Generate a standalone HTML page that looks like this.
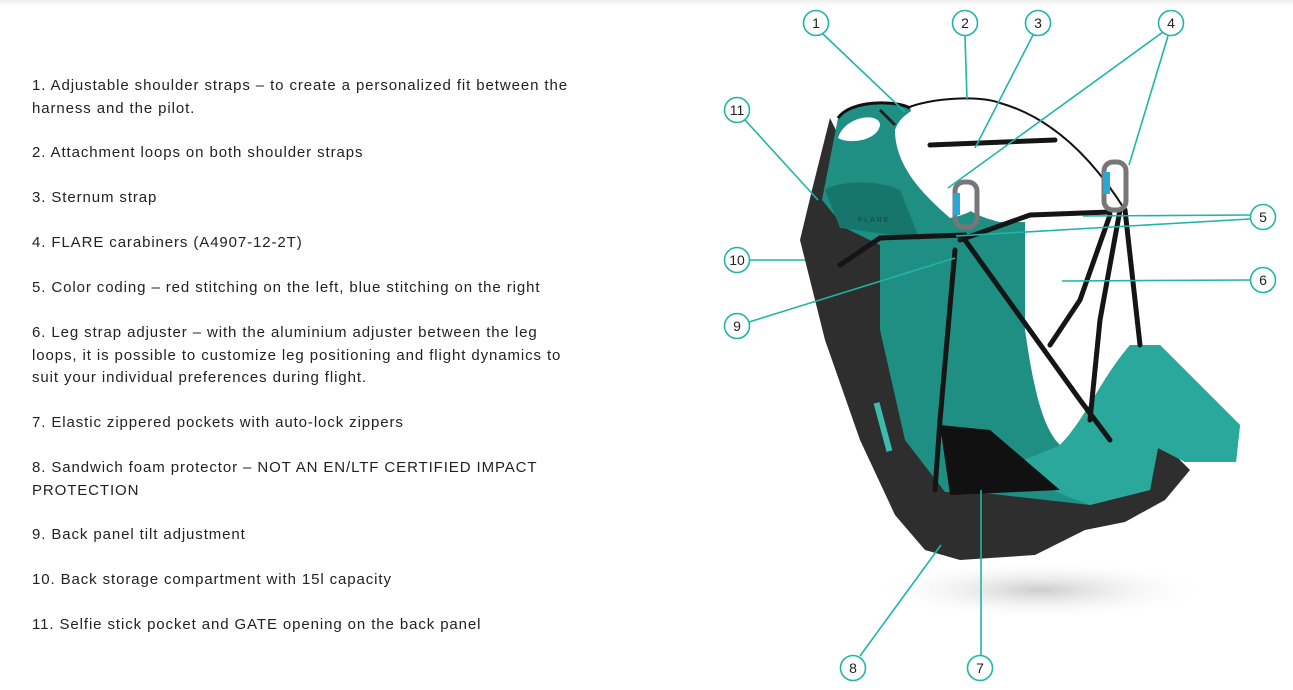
<!DOCTYPE html>
<html><head><meta charset="utf-8"><style>
html,body{margin:0;padding:0;background:#fff;}
body{width:1293px;height:690px;position:relative;overflow:hidden;font-family:"Liberation Sans",sans-serif;}
.t{position:absolute;left:32px;font-size:15px;color:#222;line-height:22.5px;width:545px;letter-spacing:0.9px;}
.top{position:absolute;left:0;top:0;width:1293px;height:6px;background:linear-gradient(#eee,#fff);}
</style></head><body>
<div class="top"></div>
<div class="t" style="top:75px">1. Adjustable shoulder straps – to create a personalized fit between the harness and the pilot.</div>
<div class="t" style="top:142px">2. Attachment loops on both shoulder straps</div>
<div class="t" style="top:187px">3. Sternum strap</div>
<div class="t" style="top:232px">4. FLARE carabiners (A4907-12-2T)</div>
<div class="t" style="top:277px">5. Color coding – red stitching on the left, blue stitching on the right</div>
<div class="t" style="top:322px">6. Leg strap adjuster – with the aluminium adjuster between the leg loops, it is possible to customize leg positioning and flight dynamics to suit your individual preferences during flight.</div>
<div class="t" style="top:412px">7. Elastic zippered pockets with auto-lock zippers</div>
<div class="t" style="top:457px">8. Sandwich foam protector – NOT AN EN/LTF CERTIFIED IMPACT PROTECTION</div>
<div class="t" style="top:524px">9. Back panel tilt adjustment</div>
<div class="t" style="top:569px">10. Back storage compartment with 15l capacity</div>
<div class="t" style="top:614px">11. Selfie stick pocket and GATE opening on the back panel</div>
<svg width="1293" height="690" style="position:absolute;left:0;top:0">
<defs><radialGradient id="sh" cx="0.5" cy="0.5" r="0.5"><stop offset="0" stop-color="#ccc"/><stop offset="1" stop-color="#fff" stop-opacity="0"/></radialGradient></defs>
<ellipse cx="1040" cy="590" rx="170" ry="30" fill="url(#sh)"/>
<path d="M830,118 L812,190 L800,240 L825,340 L860,440 L895,515 L925,550 L960,560 L1035,555 L1085,530 L1125,522 L1165,500 L1190,470 L1160,440 L1090,470 L1000,470 L940,440 L895,300 L870,200 Z" fill="#2e2e2e"/>
<path d="M838,118 C850,100 895,100 910,108 L930,160 C945,200 970,215 1000,222 L1025,222 L1025,330 C1035,400 1045,430 1060,445 C1085,420 1100,380 1130,345 L1160,345 L1240,425 L1236,462 L1185,462 L1158,448 L1150,490 L1090,505 L975,492 L945,492 L905,440 L880,330 L880,245 L845,228 L822,200 Z" fill="#1f8f84"/>
<path d="M1060,445 C1085,420 1100,380 1130,345 L1160,345 L1240,425 L1236,462 L1185,462 L1158,448 L1150,490 L1090,505 L1000,470 Z" fill="#2aa89b"/>
<path d="M838,118 C850,100 895,100 910,108" stroke="#111" stroke-width="3" fill="none"/>
<path d="M838,138 C845,115 880,112 880,125 C878,140 850,145 838,138 Z" fill="#fff"/>
<path d="M895,130 C905,100 960,95 975,110 L1020,150 C1000,200 970,215 950,218 C930,200 895,170 895,130 Z" fill="#fff"/>
<path d="M907,108 C930,98 980,95 1000,103 C1060,120 1100,170 1125,210" stroke="#111" stroke-width="2" fill="none"/>
<path d="M940,425 L990,430 L1060,490 L950,495 Z" fill="#111"/>
<path d="M825,190 C840,180 880,180 900,190 L920,240 C890,235 860,230 840,228 Z" fill="#17766c"/>
<text x="858" y="222" font-size="7" fill="#333" font-family="Liberation Sans" letter-spacing="2">FLARE</text>
<g stroke="#151515" stroke-width="5" fill="none" stroke-linecap="round">
<path d="M930,145 L1055,140"/>
<path d="M840,265 L880,238 L965,235"/>
<path d="M960,240 L1030,215 L1110,212"/>
<path d="M965,240 L1080,400 L1110,440"/>
<path d="M955,250 L940,420 L935,490"/>
<path d="M1120,210 L1100,320 L1090,420"/>
<path d="M1125,210 L1140,345"/>
<path d="M1110,215 L1080,300 L1050,345"/>
</g>
<path d="M895,125 L880,110" stroke="#222" stroke-width="3"/>
<rect x="880" y="402" width="6" height="50" fill="#3cbcae" transform="rotate(-15 883 427)"/>
<rect x="955" y="182" width="22" height="45" rx="9" fill="none" stroke="#777" stroke-width="5"/>
<rect x="953" y="193" width="7" height="22" fill="#29a8d8"/>
<rect x="1104" y="162" width="22" height="48" rx="9" fill="none" stroke="#777" stroke-width="5"/>
<rect x="1103" y="172" width="7" height="22" fill="#29a8d8"/>
<g stroke="#1fb5a8" stroke-width="1.6" fill="none">
<line x1="823" y1="34" x2="905" y2="112"/>
<line x1="965" y1="36" x2="967" y2="100"/>
<line x1="1033" y1="35" x2="975" y2="148"/>
<line x1="1163" y1="32" x2="948" y2="188"/>
<line x1="1168" y1="36" x2="1129" y2="165"/>
<line x1="745" y1="120" x2="818" y2="200"/>
<line x1="750" y1="260" x2="805" y2="260"/>
<line x1="749" y1="322" x2="955" y2="258"/>
<line x1="1250" y1="215" x2="1083" y2="216"/>
<line x1="1250" y1="219" x2="956" y2="236"/>
<line x1="1250" y1="280" x2="1062" y2="281"/>
<line x1="860" y1="656" x2="941" y2="545"/>
<line x1="981" y1="655" x2="981" y2="490"/>
</g>
<g fill="#fff" stroke="#1fb5a8" stroke-width="1.6">
<circle cx="816" cy="23" r="12.5"/><circle cx="965" cy="23" r="12.5"/><circle cx="1038" cy="23" r="12.5"/><circle cx="1171" cy="23" r="12.5"/>
<circle cx="737" cy="110" r="12.5"/><circle cx="737" cy="260" r="12.5"/><circle cx="737" cy="326" r="12.5"/>
<circle cx="1263" cy="217" r="12.5"/><circle cx="1263" cy="280" r="12.5"/>
<circle cx="853" cy="668" r="12.5"/><circle cx="980" cy="668" r="12.5"/>
</g>
<g font-family="Liberation Sans" font-size="14" fill="#222" text-anchor="middle">
<text x="816" y="28">1</text><text x="965" y="28">2</text><text x="1038" y="28">3</text><text x="1171" y="28">4</text>
<text x="737" y="115">11</text><text x="737" y="265">10</text><text x="737" y="331">9</text>
<text x="1263" y="222">5</text><text x="1263" y="285">6</text>
<text x="853" y="673">8</text><text x="980" y="673">7</text>
</g>
</svg>
</body></html>
